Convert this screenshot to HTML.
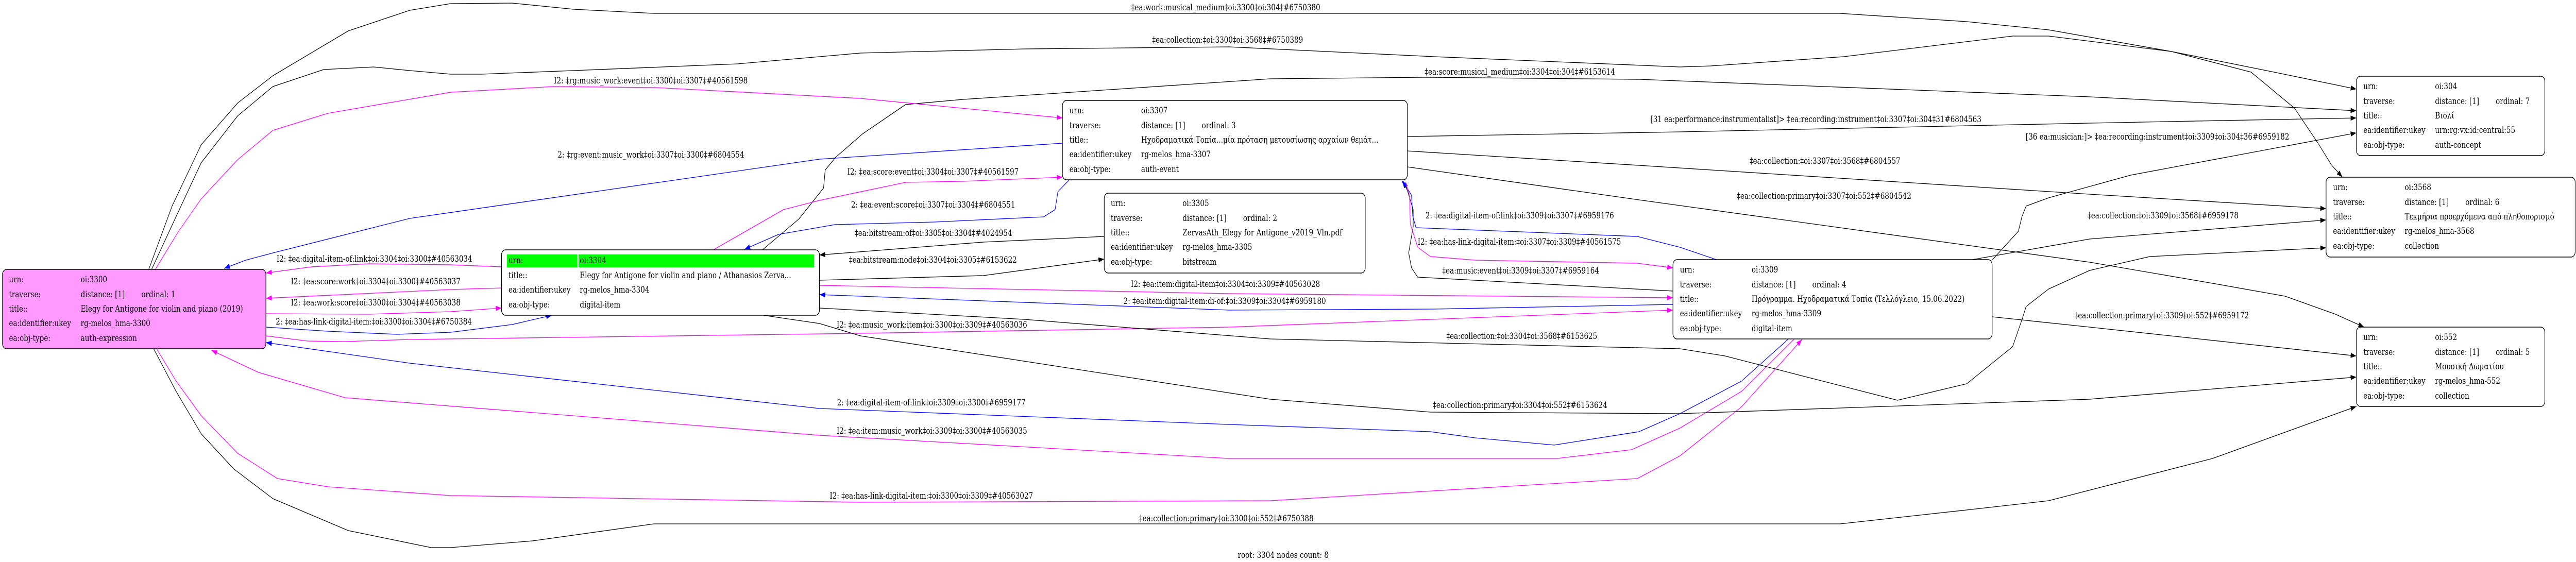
<!DOCTYPE html>
<html><head><meta charset="utf-8"><style>
html,body{margin:0;padding:0;background:#fff;overflow:hidden;width:100vw;height:100vh;}
svg{display:block;width:100vw;height:100vh;}
text{font-family:"DejaVu Serif","Liberation Serif",serif;font-size:17px;fill:#000;}
.e{fill:none;stroke-width:1.3;stroke-linejoin:round;}
.k{stroke:#000;} .m{stroke:#ff00ff;} .b{stroke:#0000ff;}
.n{fill:#fff;stroke:#000;stroke-width:1.4;}
</style></head><body>
<svg viewBox="0 0 6287 1091" preserveAspectRatio="none" xmlns="http://www.w3.org/2000/svg">
<defs>
<marker id="ak" markerUnits="userSpaceOnUse" markerWidth="15" markerHeight="11" refX="14" refY="5" orient="auto"><path d="M0,0 L14,5 L0,10 z" fill="#000"/></marker>
<marker id="am" markerUnits="userSpaceOnUse" markerWidth="15" markerHeight="11" refX="14" refY="5" orient="auto"><path d="M0,0 L14,5 L0,10 z" fill="#ff00ff"/></marker>
<marker id="ab" markerUnits="userSpaceOnUse" markerWidth="15" markerHeight="11" refX="14" refY="5" orient="auto"><path d="M0,0 L14,5 L0,10 z" fill="#0000ff"/></marker>
</defs>

<polyline class="e k" marker-end="url(#ak)" points="363,523 420,400 491,281 580,200 666,147 850,60 1000,20 1100,7 1250,6 1400,18 1596,26 4491,26 4800,42 5000,58 5300,100 5550,140 5751,173"/>
<polyline class="e k" marker-end="url(#ak)" points="370,523 430,420 491,316 580,225 666,168 790,135 912,130 1000,137 1100,144 1175,144 1400,137 1800,124 2100,103 2500,95 3000,91 3500,110 4100,130 4175,128 4500,110 4912,70 5000,70 5300,100 5494,140 5600,210 5659,280 5690,320 5717,344"/>
<polyline class="e k" marker-end="url(#ak)" points="1861,485 1950,425 2010,365 2014,330 2040,305 2105,260 2210,203 2350,193 2561,182 3100,153 3477,150 4000,154 5100,188 5751,215"/>
<polyline class="e m" marker-end="url(#am)" points="379,523 435,450 491,386 580,310 666,253 800,220 1100,179 1351,168 1600,170 2100,191 2593,229"/>
<polyline class="e b" marker-end="url(#ab)" points="2593,278 2000,309 1000,424 666,491 600,505 547,521"/>
<polyline class="e m" marker-end="url(#am)" points="1224,518 1100,514 900,512 760,518 649,530"/>
<polyline class="e m" marker-end="url(#am)" points="1224,559 1100,562 649,579"/>
<polyline class="e m" marker-end="url(#am)" points="649,609 900,610 1100,605 1224,598"/>
<polyline class="e b" marker-end="url(#ab)" points="649,635 800,643 968,649 1100,645 1250,630 1347,612"/>
<polyline class="e m" marker-end="url(#am)" points="649,652 750,662 842,663 1000,659 2100,647 3000,635 4083,602"/>
<polyline class="e b" marker-end="url(#ab)" points="4365,658 4250,740 4100,803 4000,838 3793,864 3600,850 3491,838 3000,824 2000,793 1000,705 649,665"/>
<polyline class="e m" marker-end="url(#am)" points="4379,658 4250,760 4100,831 3982,873 3800,890 3000,890 2000,845 1000,782 842,772 631,723 516,680"/>
<polyline class="e m" marker-end="url(#am)" points="382,677 430,740 491,807 580,880 677,929 800,945 1100,962 2100,975 3100,972 3996,929 4100,885 4250,790 4398,659"/>
<polyline class="e k" marker-end="url(#ak)" points="375,677 430,760 491,842 570,910 666,968 850,1030 1052,1063 1100,1063 1300,1050 1596,1017 4491,1017 4800,990 5000,972 5400,890 5751,789"/>
<polyline class="e k" marker-end="url(#ak)" points="2695,459 2400,470 2000,495"/>
<polyline class="e k" marker-end="url(#ak)" points="2000,544 2400,535 2695,503"/>
<polyline class="e m" marker-end="url(#am)" points="2000,554 3000,570 4083,578"/>
<polyline class="e b" marker-end="url(#ab)" points="4083,591 3500,600 3000,602 2000,572"/>
<polyline class="e k" marker-end="url(#ak)" points="4083,565 3460,538 3445,520 3438,491 3449,440 3449,407 3435,370 3424,351"/>
<polyline class="e b" marker-end="url(#ab)" points="4189,504 4100,480 3996,459 3456,442 3448,420 3445,379 3430,360 3421,351"/>
<polyline class="e m" marker-end="url(#am)" points="3431,354 3440,380 3442,435 3460,480 3491,498 3600,505 3996,511 4083,520"/>
<polyline class="e k" marker-end="url(#ak)" points="2000,598 2500,620 3100,658 4100,677 4210,691 4400,730 4631,777 4800,745 4912,673 4935,620 4945,595 5000,561 5100,525 5247,498 5677,481"/>
<polyline class="e k" marker-end="url(#ak)" points="1863,612 2000,628 2100,652 3100,775 3491,800 4100,803 5100,775 5751,732"/>
<polyline class="e k" marker-end="url(#ak)" points="3435,265 4100,256 5100,239 5751,229"/>
<polyline class="e k" marker-end="url(#ak)" points="3435,293 4000,321 5100,377 5677,405"/>
<polyline class="e k" marker-end="url(#ak)" points="3435,324 4000,388 5100,509 5400,550 5577,575 5700,610 5770,635"/>
<polyline class="e k" marker-end="url(#ak)" points="4863,504 4926,449 4935,420 4945,400 5000,384 5200,340 5751,258"/>
<polyline class="e k" marker-end="url(#ak)" points="4814,504 5100,464 5677,427"/>
<polyline class="e k" marker-end="url(#ak)" points="4862,615 5100,635 5751,691"/>
<polyline class="e b" marker-end="url(#ab)" points="2610,349 2582,372 2575,407 2547,421 2281,431 2038,436 1900,455 1817,484"/>
<polyline class="e m" marker-end="url(#am)" points="1741,485 1912,407 2000,389 2210,354 2350,352 2593,344"/>

<text x="2761" y="20">‡ea:work:musical_medium‡oi:3300‡oi:304‡#6750380</text>
<text x="2812" y="83">‡ea:collection:‡oi:3300‡oi:3568‡#6750389</text>
<text x="3477" y="145">‡ea:score:musical_medium‡oi:3304‡oi:304‡#6153614</text>
<text x="1352" y="162">I2: ‡rg:music_work:event‡oi:3300‡oi:3307‡#40561598</text>
<text x="1361" y="306">2: ‡rg:event:music_work‡oi:3307‡oi:3300‡#6804554</text>
<text x="675" y="508">I2: ‡ea:digital-item-of:link‡oi:3304‡oi:3300‡#40563034</text>
<text x="710" y="552">I2: ‡ea:score:work‡oi:3304‡oi:3300‡#40563037</text>
<text x="710" y="593">I2: ‡ea:work:score‡oi:3300‡oi:3304‡#40563038</text>
<text x="673" y="630">2: ‡ea:has-link-digital-item:‡oi:3300‡oi:3304‡#6750384</text>
<text x="2042" y="636">I2: ‡ea:music_work:item‡oi:3300‡oi:3309‡#40563036</text>
<text x="2043" y="787">2: ‡ea:digital-item-of:link‡oi:3309‡oi:3300‡#6959177</text>
<text x="2042" y="842">I2: ‡ea:item:music_work‡oi:3309‡oi:3300‡#40563035</text>
<text x="2025" y="968">I2: ‡ea:has-link-digital-item:‡oi:3300‡oi:3309‡#40563027</text>
<text x="2780" y="1012">‡ea:collection:primary‡oi:3300‡oi:552‡#6750388</text>
<text x="2086" y="458">‡ea:bitstream:of‡oi:3305‡oi:3304‡#4024954</text>
<text x="2072" y="510">‡ea:bitstream:node‡oi:3304‡oi:3305‡#6153622</text>
<text x="2760" y="557">I2: ‡ea:item:digital-item‡oi:3304‡oi:3309‡#40563028</text>
<text x="2742" y="590">2: ‡ea:item:digital-item:di-of:‡oi:3309‡oi:3304‡#6959180</text>
<text x="3520" y="531">‡ea:music:event‡oi:3309‡oi:3307‡#6959164</text>
<text x="3479" y="424">2: ‡ea:digital-item-of:link‡oi:3309‡oi:3307‡#6959176</text>
<text x="3460" y="475">I2: ‡ea:has-link-digital-item:‡oi:3307‡oi:3309‡#40561575</text>
<text x="3530" y="658">‡ea:collection:‡oi:3304‡oi:3568‡#6153625</text>
<text x="3497" y="792">‡ea:collection:primary‡oi:3304‡oi:552‡#6153624</text>
<text x="4028" y="237">[31 ea:performance:instrumentalist]&gt; ‡ea:recording:instrument‡oi:3307‡oi:304‡31#6804563</text>
<text x="4270" y="318">‡ea:collection:‡oi:3307‡oi:3568‡#6804557</text>
<text x="4239" y="386">‡ea:collection:primary‡oi:3307‡oi:552‡#6804542</text>
<text x="4944" y="271">[36 ea:musician:]&gt; ‡ea:recording:instrument‡oi:3309‡oi:304‡36#6959182</text>
<text x="5095" y="424">‡ea:collection:‡oi:3309‡oi:3568‡#6959178</text>
<text x="5063" y="618">‡ea:collection:primary‡oi:3309‡oi:552‡#6959172</text>
<text x="2077" y="403">2: ‡ea:event:score‡oi:3307‡oi:3304‡#6804551</text>
<text x="2068" y="339">I2: ‡ea:score:event‡oi:3304‡oi:3307‡#40561597</text>

<rect class="n" x="6" y="523" width="643" height="154" rx="10" style="fill:#ff99ff"/>
<text x="22" y="548">urn:</text><text x="197" y="548">oi:3300</text>
<text x="22" y="577">traverse:</text><text x="197" y="577">distance: [1]</text><text x="345" y="577">ordinal: 1</text>
<text x="22" y="605">title::</text><text x="197" y="605">Elegy for Antigone for violin and piano (2019)</text>
<text x="22" y="633">ea:identifier:ukey</text><text x="197" y="633">rg-melos_hma-3300</text>
<text x="22" y="662">ea:obj-type:</text><text x="197" y="662">auth-expression</text>

<rect class="n" x="1224" y="485" width="776" height="127" rx="10"/>
<rect x="1237" y="494" width="172" height="25" fill="#00ff00"/>
<rect x="1412" y="494" width="575" height="25" fill="#00ff00"/>
<text x="1241" y="511">urn:</text><text x="1415" y="511">oi:3304</text>
<text x="1241" y="540">title::</text><text x="1415" y="540">Elegy for Antigone for violin and piano / Athanasios Zerva...</text>
<text x="1241" y="568">ea:identifier:ukey</text><text x="1415" y="568">rg-melos_hma-3304</text>
<text x="1241" y="597">ea:obj-type:</text><text x="1415" y="597">digital-item</text>

<rect class="n" x="2593" y="195" width="842" height="154" rx="10"/>
<text x="2610" y="220">urn:</text><text x="2785" y="220">oi:3307</text>
<text x="2610" y="249">traverse:</text><text x="2785" y="249">distance: [1]</text><text x="2933" y="249">ordinal: 3</text>
<text x="2610" y="277">title::</text><text x="2785" y="277">Ηχοδραματικά Τοπία...μία πρόταση μετουσίωσης αρχαίων θεμάτ...</text>
<text x="2610" y="305">ea:identifier:ukey</text><text x="2785" y="305">rg-melos_hma-3307</text>
<text x="2610" y="334">ea:obj-type:</text><text x="2785" y="334">auth-event</text>

<rect class="n" x="2695" y="375" width="637" height="155" rx="10"/>
<text x="2711" y="400">urn:</text><text x="2886" y="400">oi:3305</text>
<text x="2711" y="429">traverse:</text><text x="2886" y="429">distance: [1]</text><text x="3034" y="429">ordinal: 2</text>
<text x="2711" y="457">title::</text><text x="2886" y="457">ZervasAth_Elegy for Antigone_v2019_Vln.pdf</text>
<text x="2711" y="485">ea:identifier:ukey</text><text x="2886" y="485">rg-melos_hma-3305</text>
<text x="2711" y="514">ea:obj-type:</text><text x="2886" y="514">bitstream</text>

<rect class="n" x="4083" y="504" width="779" height="154" rx="10"/>
<text x="4100" y="529">urn:</text><text x="4275" y="529">oi:3309</text>
<text x="4100" y="558">traverse:</text><text x="4275" y="558">distance: [1]</text><text x="4423" y="558">ordinal: 4</text>
<text x="4100" y="586">title::</text><text x="4275" y="586">Πρόγραμμα. Ηχοδραματικά Τοπία (Τελλόγλειο, 15.06.2022)</text>
<text x="4100" y="614">ea:identifier:ukey</text><text x="4275" y="614">rg-melos_hma-3309</text>
<text x="4100" y="643">ea:obj-type:</text><text x="4275" y="643">digital-item</text>

<rect class="n" x="5751" y="148" width="460" height="154" rx="10"/>
<text x="5768" y="173">urn:</text><text x="5943" y="173">oi:304</text>
<text x="5768" y="202">traverse:</text><text x="5943" y="202">distance: [1]</text><text x="6091" y="202">ordinal: 7</text>
<text x="5768" y="230">title::</text><text x="5943" y="230">Βιολί</text>
<text x="5768" y="258">ea:identifier:ukey</text><text x="5943" y="258">urn:rg:vx:id:central:55</text>
<text x="5768" y="287">ea:obj-type:</text><text x="5943" y="287">auth-concept</text>

<rect class="n" x="5677" y="344" width="608" height="155" rx="10"/>
<text x="5694" y="369">urn:</text><text x="5869" y="369">oi:3568</text>
<text x="5694" y="398">traverse:</text><text x="5869" y="398">distance: [1]</text><text x="6017" y="398">ordinal: 6</text>
<text x="5694" y="426">title::</text><text x="5869" y="426">Τεκμήρια προερχόμενα από πληθοπορισμό</text>
<text x="5694" y="454">ea:identifier:ukey</text><text x="5869" y="454">rg-melos_hma-3568</text>
<text x="5694" y="483">ea:obj-type:</text><text x="5869" y="483">collection</text>

<rect class="n" x="5751" y="635" width="460" height="154" rx="10"/>
<text x="5768" y="660">urn:</text><text x="5943" y="660">oi:552</text>
<text x="5768" y="689">traverse:</text><text x="5943" y="689">distance: [1]</text><text x="6091" y="689">ordinal: 5</text>
<text x="5768" y="717">title::</text><text x="5943" y="717">Μουσική Δωματίου</text>
<text x="5768" y="745">ea:identifier:ukey</text><text x="5943" y="745">rg-melos_hma-552</text>
<text x="5768" y="774">ea:obj-type:</text><text x="5943" y="774">collection</text>

<text x="3021" y="1083">root: 3304 nodes count: 8</text>
</svg>
</body></html>
